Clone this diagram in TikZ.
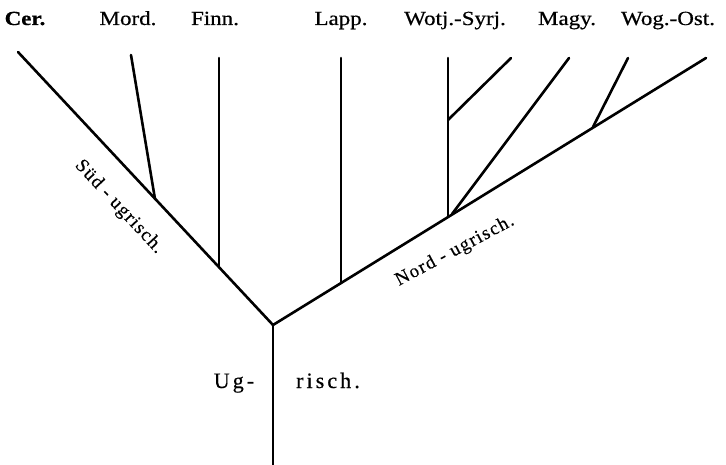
\documentclass[tikz,border=0pt]{standalone}
\usepackage{fontspec}
\setmainfont{Liberation Serif}
\newfontfamily\lblfont[FakeStretch=1.15,FakeBold=0.6]{Liberation Serif}
\newfontfamily\spfont[LetterSpace=14,FakeBold=0.4]{Liberation Serif}
\newfontfamily\sidefont[LetterSpace=7,FakeBold=0.3]{Liberation Serif}
\begin{document}
\begin{tikzpicture}[x=1pt,y=-1pt,
  br/.style={line width=2.6pt, line cap=round},
  toplbl/.style={anchor=base, inner sep=0pt, font=\lblfont\fontsize{20}{20}\selectfont},
  sidelbl/.style={inner sep=0pt, font=\sidefont\fontsize{19}{19}\selectfont},
  uglbl/.style={inner sep=0pt, anchor=base, font=\spfont\fontsize{22}{22}\selectfont}]
\useasboundingbox (0,0) rectangle (726,465);
\fill[white] (0,0) rectangle (726,465);
\coordinate (root) at (273,325);
\coordinate (bottom) at (273,465);
\coordinate (Ltop) at (18,52);
\coordinate (Rtop) at (706,58);
\coordinate (jMord) at (155,199);
\coordinate (tMord) at (131,55);
\coordinate (jFinn) at (219,267);
\coordinate (tFinn) at (219,58);
\coordinate (jLapp) at (341,283);
\coordinate (tLapp) at (341,58);
\coordinate (jWS) at (448,216);
\coordinate (tWS) at (448,58);
\coordinate (jWS2) at (448,120);
\coordinate (tWS2) at (511,58);
\coordinate (jMagy) at (452,214);
\coordinate (tMagy) at (569,58);
\coordinate (jWog) at (593,127);
\coordinate (tWog) at (628,58);
% branches
\draw[line width=2.6pt] (root) -- (bottom);
\draw[br] (Ltop) -- (root) -- (Rtop);
\draw[br] (jMord) -- (tMord);
\draw[br] (jFinn) -- (tFinn);
\draw[br] (jLapp) -- (tLapp);
\draw[br] (jWS) -- (tWS);
\draw[br] (jWS2) -- (tWS2);
\draw[br] (jMagy) -- (tMagy);
\draw[br] (jWog) -- (tWog);
% top labels
\node[toplbl, font=\lblfont\bfseries\fontsize{20}{20}\selectfont] (cer) at (25,25) {Cer.};
\node[toplbl] (mord) at (128,25) {Mord.};
\node[toplbl] (finn) at (215,25) {Finn.};
\node[toplbl] (lapp) at (341,25) {Lapp.};
\node[toplbl] (wotj) at (455,25) {Wotj.-Syrj.};
\node[toplbl] (magy) at (567,25) {Magy.};
\node[toplbl] (wog) at (668,25) {Wog.-Ost.};
% side labels
\node[sidelbl, rotate=-47] (sued) at (119,207) {Süd - ugrisch.};
\node[sidelbl, rotate=28] (nord) at (455,251) {Nord - ugrisch.};
\node[uglbl] (ug) at (234,388) {Ug-};
\node[uglbl] (risch) at (328,388) {risch.};
\end{tikzpicture}
\end{document}
